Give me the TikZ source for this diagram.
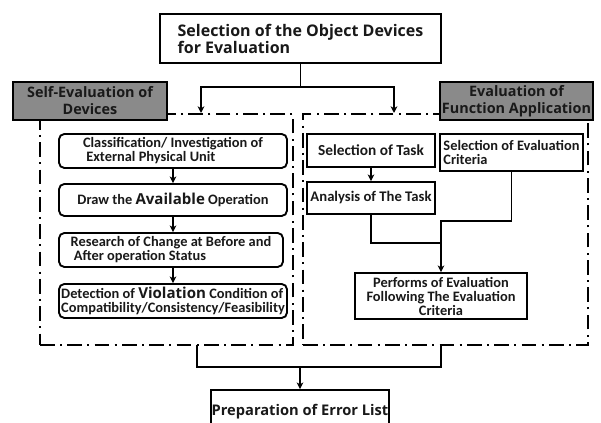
\documentclass[tikz,border=0pt]{standalone}
\usepackage{fontspec}
\setmainfont{Carlito}
\newfontfamily\headfont{Open Sans}
\usetikzlibrary{arrows.meta}
\definecolor{hdrgray}{RGB}{138,138,138}
\definecolor{txt}{RGB}{25,25,25}
\begin{document}
\begin{tikzpicture}[x=0.75pt,y=-0.75pt,
  sz/.style 2 args={minimum width={#1*0.75pt},minimum height={#2*0.75pt}},
  box/.style={draw=black,line width=1.4pt,fill=white,inner sep=0pt,text=txt},
  rbox/.style={box,rounded corners=4pt},
  headtxt/.style={font=\headfont\bfseries\fontsize{12}{12.75}\selectfont},
  intxt/.style={font=\bfseries\fontsize{10.8}{10.5}\selectfont},
  graybox/.style={box,fill=hdrgray,align=center,
    font=\headfont\bfseries\fontsize{10.8}{12.75}\selectfont},
  frame/.style={draw=black,line width=1.4pt,inner sep=0pt,
    dash pattern=on 11pt off 4pt on 1.5pt off 4pt},
  conn/.style={draw=black,line width=1.1pt},
  arr/.style={conn,-{Stealth[length=5pt,width=5pt,inset=1.5pt]}}]
\useasboundingbox (0,0) rectangle (601,423);
% containers
\node[frame,sz={253}{231}] (L) at (166.5,229.5) {};
\node[frame,sz={285}{231}] (R) at (445.5,229.5) {};
% top
\node[box,headtxt,align=left,sz={281}{49}] (top) at (300.5,38.5)
  {Selection of the Object Devices\\for Evaluation};
\node[graybox,sz={154}{38}] (g1) at (90,101) {Self-Evaluation of\\Devices};
\node[graybox,sz={153}{38}] (g2) at (516.5,101) {Evaluation of\\Function Application};
\coordinate (ta1) at (201,113);
\coordinate (ta2) at (394,113);
\draw[conn] (top.south) -- ++(0,23) coordinate (sp);
\draw[arr] (sp) -| (ta1);
\draw[arr] (sp) -| (ta2);
% left chain
\node[rbox,intxt,align=left,sz={228}{34}] (b1) at (173,151)
  {Classification/ Investigation of\\\ External Physical Unit};
\node[rbox,intxt,align=center,sz={228}{32}] (b2) at (173,200)
  {Draw the {\headfont\fontsize{11.3}{12}\selectfont Available} Operation};
\node[rbox,intxt,align=left,sz={224}{34}] (b3) at (171,250)
  {Research of Change at Before and\\\ After operation Status};
\node[rbox,intxt,align=left,sz={228}{34}] (b4) at (173,301)
  {Detection of {\headfont\fontsize{11.3}{12}\selectfont Violation} Condition of\\Compatibility/Consistency/Feasibility};
\draw[arr] (b1.south) -- (b2.north);
\draw[arr] (b2.south) -- (b3.north -| b2.south);
\draw[arr] (b3.south -| b2.south) -- (b4.north);
% right side
\node[box,align=center,sz={128}{33},
  font=\bfseries\fontsize{11.5}{12}\selectfont] (s1) at (371,150.5) {Selection of Task};
\node[box,intxt,align=left,sz={143}{37}] (s2) at (511.5,152.5)
  {Selection of Evaluation\\Criteria};
\node[box,align=center,sz={128}{32},
  font=\bfseries\fontsize{11}{12}\selectfont] (a1) at (371,198) {Analysis of The Task};
\node[box,intxt,align=center,sz={172}{46}] (p) at (441,296)
  {Performs of Evaluation\\Following The Evaluation\\Criteria};
\draw[arr] (s1.south) -- (a1.north);
\coordinate (j1) at (441,243);
\coordinate (j2) at (441,221);
\draw[conn] (a1.south) |- (j1);
\draw[arr] (s2.south) |- (j2) -- (p.north);
% bottom
\node[box,align=center,sz={178}{44},
  font=\headfont\bfseries\fontsize{11}{12}\selectfont] (e) at (300,412) {Preparation of Error List};
\coordinate (lb) at (197,345);
\draw[conn] (lb) -- ++(0,22) -| (R.south -| p.south);
\draw[arr] (e.north |- 0,367) -- (e.north);
\end{tikzpicture}
\end{document}
